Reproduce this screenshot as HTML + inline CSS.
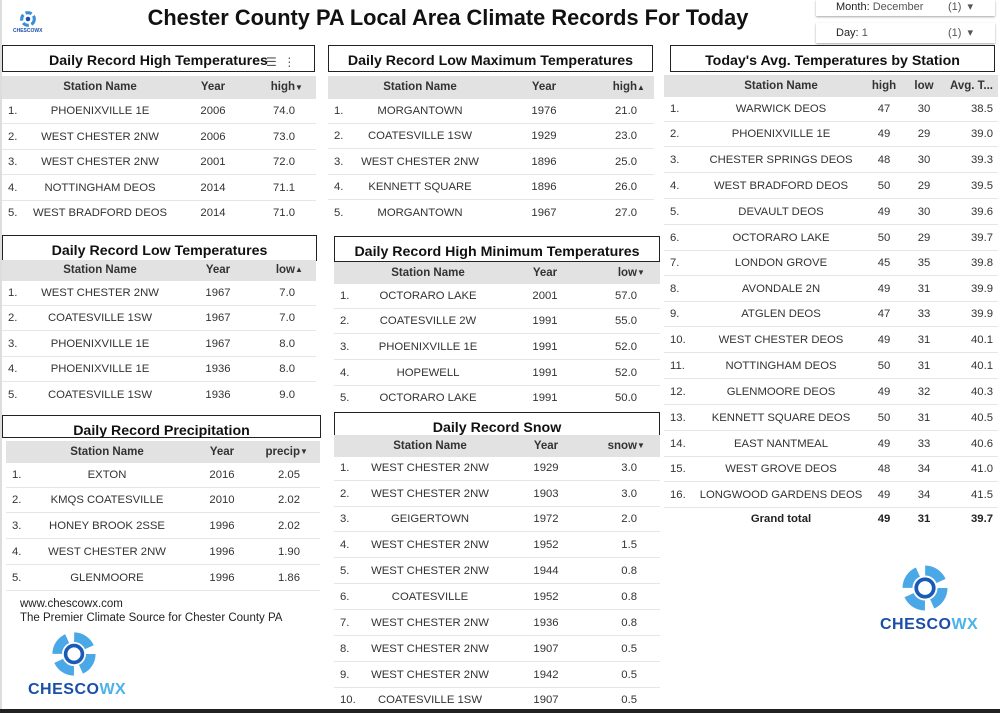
<!DOCTYPE html>
<html><head><meta charset="utf-8"><style>
*{margin:0;padding:0;box-sizing:border-box}
body{width:1000px;height:713px;background:#fff;position:relative;overflow:hidden;font-family:"Liberation Sans",Arial,sans-serif;color:#222}
.a{position:absolute}
.tt{position:absolute;border:1px solid #222;background:#fff;font-weight:bold;font-size:14.2px;text-align:center;color:#111}
.hd{position:absolute;background:#e2e2e2;font-weight:bold;font-size:11.5px;height:23px;line-height:23px;color:#333}
.r{position:absolute;height:25px;line-height:25px;font-size:11.3px;border-bottom:1px solid #e6e6e6;color:#333}
.r span,.hd span{position:absolute;top:0;white-space:nowrap}
.n{left:6px}
.c{text-align:center}
.rt{text-align:right}
.A .s{left:18px;width:160px}.A .y{left:181px;width:60px}.A .v{left:243px;width:50px}
.B .s{left:12px;width:160px}.B .y{left:186px;width:60px}.B .v{left:259px;width:50px}
.C .s{left:18px;width:160px}.C .y{left:186px;width:60px}.C .v{left:243px;width:50px}
.D .s{left:14px;width:160px}.D .y{left:181px;width:60px}.D .v{left:253px;width:50px}
.E .s{left:21px;width:160px}.E .y{left:186px;width:60px}.E .v{left:244px;width:50px}
.F .s{left:16px;width:160px}.F .y{left:182px;width:60px}.F .v{left:253px;width:50px}
.G .s{left:17px;width:200px}.G .h{left:200px;width:40px}.G .l{left:240px;width:40px}.G .v{left:279px;width:50px}
.tri{font-size:8px}
.logo{position:absolute;font-weight:bold;color:#1a4fa8;letter-spacing:0.5px}
.logo b{color:#4db1ea}
</style></head><body>
<div class="a" style="left:0;top:0;width:2px;height:713px;background:#ddd"></div>
<div class="a" style="left:0;top:709px;width:1000px;height:4px;background:#222"></div>

<svg class="a" style="left:18px;top:10px" width="20" height="18" viewBox="0 0 40 40"><circle cx="20" cy="20" r="14" fill="none" stroke="#3a8fd8" stroke-width="7" stroke-dasharray="14 6"/><circle cx="20" cy="20" r="5" fill="#1a4fa8"/></svg>
<div class="a" style="left:13px;top:28px;font-size:5px;font-weight:bold;color:#1a4fa8">CHESCOWX</div>

<div class="a" style="left:0;top:5px;width:896px;text-align:center;font-size:21.8px;font-weight:bold;color:#111">Chester County PA Local Area Climate Records For Today</div>

<div class="a" style="left:816px;top:0;width:179px;height:16px;background:#fff;box-shadow:0 1px 2px rgba(0,0,0,.35);font-size:11px;line-height:14px"><span class="a" style="left:20px">Month: <span style="color:#555">December</span></span><span class="a" style="left:132px;color:#555">(1) &nbsp;▾</span></div>
<div class="a" style="left:816px;top:23px;width:179px;height:20px;background:#fff;box-shadow:0 1px 2px rgba(0,0,0,.35);font-size:11px;line-height:20px"><span class="a" style="left:20px">Day: <span style="color:#555">1</span></span><span class="a" style="left:132px;color:#555">(1) &nbsp;▾</span></div>

<!-- T1 -->
<div class="tt" style="left:2px;top:45px;width:313px;height:27px;line-height:30px">Daily Record High Temperatures</div>
<div class="a" style="left:266px;top:55px;font-size:12px;color:#555">☰ &nbsp;⋮</div>
<div class="hd A" style="left:2px;top:76px;width:314px"><span class="s c">Station Name</span><span class="y c">Year</span><span class="v rt">high <span class="tri">▼</span></span></div>
<div class="r A" style="left:2px;top:99px;width:314px"><span class="n">1.</span><span class="s c">PHOENIXVILLE 1E</span><span class="y c">2006</span><span class="v rt">74.0</span></div>
<div class="r A" style="left:2px;top:125px;width:314px"><span class="n">2.</span><span class="s c">WEST CHESTER 2NW</span><span class="y c">2006</span><span class="v rt">73.0</span></div>
<div class="r A" style="left:2px;top:150px;width:314px"><span class="n">3.</span><span class="s c">WEST CHESTER 2NW</span><span class="y c">2001</span><span class="v rt">72.0</span></div>
<div class="r A" style="left:2px;top:176px;width:314px"><span class="n">4.</span><span class="s c">NOTTINGHAM DEOS</span><span class="y c">2014</span><span class="v rt">71.1</span></div>
<div class="r A" style="left:2px;top:201px;width:314px;border:0"><span class="n">5.</span><span class="s c">WEST BRADFORD DEOS</span><span class="y c">2014</span><span class="v rt">71.0</span></div>

<!-- T2 -->
<div class="tt" style="left:328px;top:45px;width:325px;height:27px;line-height:30px">Daily Record Low Maximum Temperatures</div>
<div class="hd B" style="left:328px;top:76px;width:326px"><span class="s c">Station Name</span><span class="y c">Year</span><span class="v rt">high <span class="tri">▲</span></span></div>
<div class="r B" style="left:328px;top:99px;width:326px"><span class="n">1.</span><span class="s c">MORGANTOWN</span><span class="y c">1976</span><span class="v rt">21.0</span></div>
<div class="r B" style="left:328px;top:124px;width:326px"><span class="n">2.</span><span class="s c">COATESVILLE 1SW</span><span class="y c">1929</span><span class="v rt">23.0</span></div>
<div class="r B" style="left:328px;top:150px;width:326px"><span class="n">3.</span><span class="s c">WEST CHESTER 2NW</span><span class="y c">1896</span><span class="v rt">25.0</span></div>
<div class="r B" style="left:328px;top:175px;width:326px"><span class="n">4.</span><span class="s c">KENNETT SQUARE</span><span class="y c">1896</span><span class="v rt">26.0</span></div>
<div class="r B" style="left:328px;top:201px;width:326px;border:0"><span class="n">5.</span><span class="s c">MORGANTOWN</span><span class="y c">1967</span><span class="v rt">27.0</span></div>

<!-- T3 -->
<div class="tt" style="left:2px;top:235px;width:315px;height:26px;line-height:31px">Daily Record Low Temperatures</div>
<div class="hd C" style="left:2px;top:260px;width:314px;height:21px;line-height:20px"><span class="s c">Station Name</span><span class="y c">Year</span><span class="v rt">low <span class="tri">▲</span></span></div>
<div class="r C" style="left:2px;top:281px;width:314px"><span class="n">1.</span><span class="s c">WEST CHESTER 2NW</span><span class="y c">1967</span><span class="v rt">7.0</span></div>
<div class="r C" style="left:2px;top:306px;width:314px"><span class="n">2.</span><span class="s c">COATESVILLE 1SW</span><span class="y c">1967</span><span class="v rt">7.0</span></div>
<div class="r C" style="left:2px;top:332px;width:314px"><span class="n">3.</span><span class="s c">PHOENIXVILLE 1E</span><span class="y c">1967</span><span class="v rt">8.0</span></div>
<div class="r C" style="left:2px;top:357px;width:314px"><span class="n">4.</span><span class="s c">PHOENIXVILLE 1E</span><span class="y c">1936</span><span class="v rt">8.0</span></div>
<div class="r C" style="left:2px;top:383px;width:314px;border:0"><span class="n">5.</span><span class="s c">COATESVILLE 1SW</span><span class="y c">1936</span><span class="v rt">9.0</span></div>

<!-- T4 -->
<div class="tt" style="left:334px;top:236px;width:326px;height:26px;line-height:30px">Daily Record High Minimum Temperatures</div>
<div class="hd D" style="left:334px;top:262px;width:326px;height:22px;line-height:22px"><span class="s c">Station Name</span><span class="y c">Year</span><span class="v rt">low <span class="tri">▼</span></span></div>
<div class="r D" style="left:334px;top:284px;width:326px"><span class="n">1.</span><span class="s c">OCTORARO LAKE</span><span class="y c">2001</span><span class="v rt">57.0</span></div>
<div class="r D" style="left:334px;top:309px;width:326px"><span class="n">2.</span><span class="s c">COATESVILLE 2W</span><span class="y c">1991</span><span class="v rt">55.0</span></div>
<div class="r D" style="left:334px;top:335px;width:326px"><span class="n">3.</span><span class="s c">PHOENIXVILLE 1E</span><span class="y c">1991</span><span class="v rt">52.0</span></div>
<div class="r D" style="left:334px;top:361px;width:326px"><span class="n">4.</span><span class="s c">HOPEWELL</span><span class="y c">1991</span><span class="v rt">52.0</span></div>
<div class="r D" style="left:334px;top:386px;width:326px;border:0"><span class="n">5.</span><span class="s c">OCTORARO LAKE</span><span class="y c">1991</span><span class="v rt">50.0</span></div>

<!-- T5 -->
<div class="tt" style="left:2px;top:415px;width:319px;height:23px;line-height:30px">Daily Record Precipitation</div>
<div class="hd E" style="left:6px;top:441px;width:314px;height:22px;line-height:22px"><span class="s c">Station Name</span><span class="y c">Year</span><span class="v rt">precip <span class="tri">▼</span></span></div>
<div class="r E" style="left:6px;top:463px;width:314px"><span class="n">1.</span><span class="s c">EXTON</span><span class="y c">2016</span><span class="v rt">2.05</span></div>
<div class="r E" style="left:6px;top:488px;width:314px"><span class="n">2.</span><span class="s c">KMQS COATESVILLE</span><span class="y c">2010</span><span class="v rt">2.02</span></div>
<div class="r E" style="left:6px;top:514px;width:314px"><span class="n">3.</span><span class="s c">HONEY BROOK 2SSE</span><span class="y c">1996</span><span class="v rt">2.02</span></div>
<div class="r E" style="left:6px;top:540px;width:314px"><span class="n">4.</span><span class="s c">WEST CHESTER 2NW</span><span class="y c">1996</span><span class="v rt">1.90</span></div>
<div class="r E" style="left:6px;top:566px;width:314px"><span class="n">5.</span><span class="s c">GLENMOORE</span><span class="y c">1996</span><span class="v rt">1.86</span></div>
<div class="a" style="left:20px;top:597px;font-size:11.5px;line-height:14px;color:#222">www.chescowx.com<br>The Premier Climate Source for Chester County PA</div>
<svg class="a" style="left:50px;top:630px" width="48" height="48" viewBox="0 0 40 40"><circle cx="20" cy="20" r="14" fill="none" stroke="#4aa8e6" stroke-width="8" stroke-dasharray="16 6"/><circle cx="20" cy="20" r="7" fill="none" stroke="#1a5bb8" stroke-width="3"/></svg>
<div class="logo" style="left:28px;top:681px;font-size:16px">CHESCO<b>WX</b></div>

<!-- T6 -->
<div class="tt" style="left:334px;top:412px;width:326px;height:24px;line-height:30px">Daily Record Snow</div>
<div class="hd F" style="left:334px;top:435px;width:326px;height:22px;line-height:22px"><span class="s c">Station Name</span><span class="y c">Year</span><span class="v rt">snow <span class="tri">▼</span></span></div>
<div class="r F" style="left:334px;top:456px;width:326px"><span class="n">1.</span><span class="s c">WEST CHESTER 2NW</span><span class="y c">1929</span><span class="v rt">3.0</span></div>
<div class="r F" style="left:334px;top:482px;width:326px"><span class="n">2.</span><span class="s c">WEST CHESTER 2NW</span><span class="y c">1903</span><span class="v rt">3.0</span></div>
<div class="r F" style="left:334px;top:507px;width:326px"><span class="n">3.</span><span class="s c">GEIGERTOWN</span><span class="y c">1972</span><span class="v rt">2.0</span></div>
<div class="r F" style="left:334px;top:533px;width:326px"><span class="n">4.</span><span class="s c">WEST CHESTER 2NW</span><span class="y c">1952</span><span class="v rt">1.5</span></div>
<div class="r F" style="left:334px;top:559px;width:326px"><span class="n">5.</span><span class="s c">WEST CHESTER 2NW</span><span class="y c">1944</span><span class="v rt">0.8</span></div>
<div class="r F" style="left:334px;top:585px;width:326px"><span class="n">6.</span><span class="s c">COATESVILLE</span><span class="y c">1952</span><span class="v rt">0.8</span></div>
<div class="r F" style="left:334px;top:611px;width:326px"><span class="n">7.</span><span class="s c">WEST CHESTER 2NW</span><span class="y c">1936</span><span class="v rt">0.8</span></div>
<div class="r F" style="left:334px;top:637px;width:326px"><span class="n">8.</span><span class="s c">WEST CHESTER 2NW</span><span class="y c">1907</span><span class="v rt">0.5</span></div>
<div class="r F" style="left:334px;top:663px;width:326px"><span class="n">9.</span><span class="s c">WEST CHESTER 2NW</span><span class="y c">1942</span><span class="v rt">0.5</span></div>
<div class="r F" style="left:334px;top:688px;width:326px;border:0"><span class="n">10.</span><span class="s c">COATESVILLE 1SW</span><span class="y c">1907</span><span class="v rt">0.5</span></div>

<!-- T7 -->
<div class="tt" style="left:670px;top:45px;width:325px;height:27px;line-height:30px">Today's Avg. Temperatures by Station</div>
<div class="hd G" style="left:664px;top:75px;width:334px;height:22px;line-height:22px"><span class="s c">Station Name</span><span class="h c">high</span><span class="l c">low</span><span class="v rt">Avg. T...</span></div>
<div class="r G" style="left:664px;top:97px;width:334px"><span class="n">1.</span><span class="s c">WARWICK DEOS</span><span class="h c">47</span><span class="l c">30</span><span class="v rt">38.5</span></div>
<div class="r G" style="left:664px;top:122px;width:334px"><span class="n">2.</span><span class="s c">PHOENIXVILLE 1E</span><span class="h c">49</span><span class="l c">29</span><span class="v rt">39.0</span></div>
<div class="r G" style="left:664px;top:148px;width:334px"><span class="n">3.</span><span class="s c">CHESTER SPRINGS DEOS</span><span class="h c">48</span><span class="l c">30</span><span class="v rt">39.3</span></div>
<div class="r G" style="left:664px;top:174px;width:334px"><span class="n">4.</span><span class="s c">WEST BRADFORD DEOS</span><span class="h c">50</span><span class="l c">29</span><span class="v rt">39.5</span></div>
<div class="r G" style="left:664px;top:200px;width:334px"><span class="n">5.</span><span class="s c">DEVAULT DEOS</span><span class="h c">49</span><span class="l c">30</span><span class="v rt">39.6</span></div>
<div class="r G" style="left:664px;top:226px;width:334px"><span class="n">6.</span><span class="s c">OCTORARO LAKE</span><span class="h c">50</span><span class="l c">29</span><span class="v rt">39.7</span></div>
<div class="r G" style="left:664px;top:251px;width:334px"><span class="n">7.</span><span class="s c">LONDON GROVE</span><span class="h c">45</span><span class="l c">35</span><span class="v rt">39.8</span></div>
<div class="r G" style="left:664px;top:277px;width:334px"><span class="n">8.</span><span class="s c">AVONDALE 2N</span><span class="h c">49</span><span class="l c">31</span><span class="v rt">39.9</span></div>
<div class="r G" style="left:664px;top:302px;width:334px"><span class="n">9.</span><span class="s c">ATGLEN DEOS</span><span class="h c">47</span><span class="l c">33</span><span class="v rt">39.9</span></div>
<div class="r G" style="left:664px;top:328px;width:334px"><span class="n">10.</span><span class="s c">WEST CHESTER DEOS</span><span class="h c">49</span><span class="l c">31</span><span class="v rt">40.1</span></div>
<div class="r G" style="left:664px;top:354px;width:334px"><span class="n">11.</span><span class="s c">NOTTINGHAM DEOS</span><span class="h c">50</span><span class="l c">31</span><span class="v rt">40.1</span></div>
<div class="r G" style="left:664px;top:380px;width:334px"><span class="n">12.</span><span class="s c">GLENMOORE DEOS</span><span class="h c">49</span><span class="l c">32</span><span class="v rt">40.3</span></div>
<div class="r G" style="left:664px;top:406px;width:334px"><span class="n">13.</span><span class="s c">KENNETT SQUARE DEOS</span><span class="h c">50</span><span class="l c">31</span><span class="v rt">40.5</span></div>
<div class="r G" style="left:664px;top:432px;width:334px"><span class="n">14.</span><span class="s c">EAST NANTMEAL</span><span class="h c">49</span><span class="l c">33</span><span class="v rt">40.6</span></div>
<div class="r G" style="left:664px;top:457px;width:334px"><span class="n">15.</span><span class="s c">WEST GROVE DEOS</span><span class="h c">48</span><span class="l c">34</span><span class="v rt">41.0</span></div>
<div class="r G" style="left:664px;top:483px;width:334px"><span class="n">16.</span><span class="s c">LONGWOOD GARDENS DEOS</span><span class="h c">49</span><span class="l c">34</span><span class="v rt">41.5</span></div>
<div class="r G" style="left:664px;top:507px;width:334px;border:0;font-weight:bold;line-height:24px;color:#222"><span class="s c">Grand total</span><span class="h c">49</span><span class="l c">31</span><span class="v rt">39.7</span></div>

<svg class="a" style="left:900px;top:563px" width="50" height="50" viewBox="0 0 40 40"><circle cx="20" cy="20" r="14" fill="none" stroke="#4aa8e6" stroke-width="8" stroke-dasharray="16 6"/><circle cx="20" cy="20" r="7" fill="none" stroke="#1a5bb8" stroke-width="3"/></svg>
<div class="logo" style="left:880px;top:616px;font-size:16px">CHESCO<b>WX</b></div>
</body></html>
